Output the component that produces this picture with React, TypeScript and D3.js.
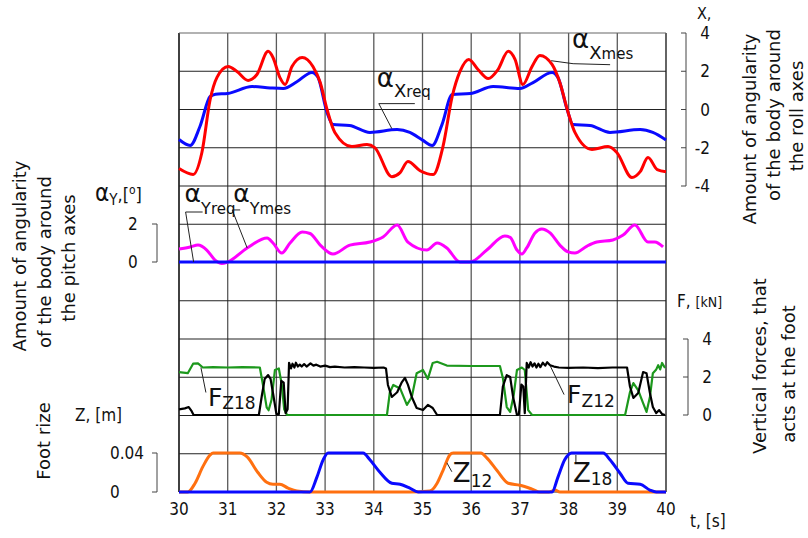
import React from 'react';
import * as d3 from 'd3';

const W = 808;
const H = 538;
const FONT = "'DejaVu Sans', Verdana, sans-serif";
const NUM_FONT = "'DejaVu Sans Condensed', 'DejaVu Sans', sans-serif";

type P = [number, number];

// ---- tick values / labels ----
const timeTicks = [30, 31, 32, 33, 34, 35, 36, 37, 38, 39, 40];
const rollTicks = [4, 2, 0, -2, -4];
const pitchTicks = [2, 0];
const forceTicks = [4, 2, 0];
const riseTicks = [0.04, 0];
const riseTickLabels = ['0.04', '0'];

// ---- roll angle alpha_X [deg] ----
const alphaXReq: P[] = [
  [30.0, -1.57], [30.23, -1.88], [30.43, -0.89], [30.64, 0.68], [30.75, 0.8], [31.0, 0.84],
  [31.5, 1.2], [31.87, 1.13], [32.14, 1.1], [32.42, 1.45], [32.73, 1.94], [32.85, 1.7],
  [33.04, -0.16], [33.16, -0.79], [33.5, -0.84], [33.92, -1.2], [34.48, -1.05], [34.74, -1.2],
  [35.0, -1.6], [35.2, -1.88], [35.4, -0.79], [35.61, 0.79], [35.98, 0.84], [36.45, 1.2],
  [37.0, 1.1], [37.27, 1.41], [37.66, 1.94], [37.78, 1.68], [37.97, 0], [38.09, -0.79],
  [38.44, -0.84], [38.85, -1.2], [39.47, -1.05], [39.73, -1.2], [40.0, -1.6],
];
const alphaXMes: P[] = [
  [30.0, -3.09], [30.29, -3.4], [30.47, -2.25], [30.64, 0.52], [30.78, 1.68], [31.01, 2.25],
  [31.19, 1.99], [31.42, 1.52], [31.6, 1.83], [31.83, 3.04], [31.93, 2.72], [32.07, 1.68],
  [32.18, 1.31], [32.32, 2.25], [32.53, 2.72], [32.75, 2.25], [32.9, 1.41], [33.04, 0],
  [33.2, -1.2], [33.55, -1.94], [33.86, -1.83], [34.02, -1.99], [34.37, -3.51], [34.54, -3.3],
  [34.7, -2.72], [34.95, -3.2], [35.22, -3.4], [35.42, -1.94], [35.61, 0.68], [35.77, 1.99],
  [35.95, 2.62], [36.14, 2.09], [36.35, 1.62], [36.55, 2.09], [36.76, 3.04], [36.9, 2.62],
  [37.06, 1.31], [37.25, 2.25], [37.41, 2.83], [37.66, 2.36], [37.82, 1.41], [37.99, -0.16],
  [38.13, -1.2], [38.48, -2.09], [38.81, -1.94], [38.99, -2.25], [39.3, -3.56], [39.47, -3.25],
  [39.63, -2.51], [39.82, -3.14], [40.0, -3.25],
];

// ---- pitch angle alpha_Y [deg] ----
const alphaYReq: P[] = [[30, 0], [40, 0]];
const alphaYMes: P[] = [
  [30.0, 0.68], [30.23, 0.79], [30.39, 0.89], [30.57, 0.63], [30.74, 0.1], [30.88, -0.08],
  [31.0, 0], [31.4, 0.74], [31.81, 1.26], [31.93, 1.0], [32.11, 0.47], [32.28, 1.0],
  [32.53, 1.58], [32.69, 1.5], [32.9, 0.89], [33.16, 0.42], [33.51, 0.89], [33.92, 1.05],
  [34.19, 1.32], [34.48, 1.95], [34.7, 1.05], [35.09, 0.63], [35.3, 1.0], [35.5, 0.74],
  [35.77, 0], [35.98, 0], [36.32, 0.63], [36.69, 1.37], [36.8, 1.3], [36.94, 0.63],
  [37.04, 0.42], [37.14, 0.74], [37.31, 1.53], [37.45, 1.74], [37.62, 1.53], [37.82, 0.89],
  [37.99, 0.53], [38.13, 0.47], [38.38, 0.84], [38.58, 1.05], [38.91, 1.16], [39.12, 1.42],
  [39.36, 1.95], [39.63, 1.05], [39.77, 1.05], [39.94, 0.79],
];

// ---- vertical forces [kN] ----
const forceZ18: P[] = [
  [30.0, 2.26], [30.18, 2.2], [30.29, 2.7], [30.39, 2.72], [30.49, 2.5], [30.7, 2.52],
  [31.0, 2.5], [31.3, 2.52], [31.66, 2.5], [31.73, 1.5], [31.8, 0.4], [31.84, 0.25],
  [31.9, 0.8], [31.97, 2.37], [32.05, 2.45], [32.11, 1.6], [32.16, 0.3], [32.22, 0],
  [34.27, 0], [34.33, 1.2], [34.4, 1.58], [34.54, 1.4], [34.68, 0.53], [34.78, 0.95],
  [34.88, 2.2], [35.01, 2.37], [35.11, 1.9], [35.21, 2.74], [35.3, 2.8], [35.5, 2.6],
  [36.0, 2.58], [36.59, 2.58], [36.65, 1.95], [36.73, 0.42], [36.8, 0.16], [36.87, 1.0],
  [36.94, 2.37], [37.04, 2.5], [37.1, 2.37], [37.17, 0.26], [37.25, 0], [39.16, 0],
  [39.26, 1.2], [39.33, 1.68], [39.43, 1.3], [39.53, 0.63], [39.6, 0.16], [39.67, 0.95],
  [39.73, 2.2], [39.8, 2.4], [39.84, 2.62], [39.88, 2.4], [39.92, 2.74], [39.98, 2.47],
];
const forceZ12: P[] = [
  [30.0, 0.3], [30.12, 0.35], [30.2, 0.42], [30.26, 0.2], [30.3, 0], [31.64, 0],
  [31.7, 1.0], [31.76, 1.9], [31.83, 2.1], [31.88, 1.9], [31.94, 1.0], [32.0, 0.05],
  [32.05, 0.05], [32.1, 1.8], [32.15, 1.7], [32.19, 0.1], [32.23, 0.3], [32.26, 2.75],
  [32.3, 2.45], [32.33, 2.7], [32.37, 2.5], [32.4, 2.75], [32.44, 2.55], [32.48, 2.65],
  [32.52, 2.55], [32.57, 2.68], [32.62, 2.55], [32.7, 2.72], [32.76, 2.6], [32.82, 2.65],
  [32.9, 2.55], [33.0, 2.6], [33.1, 2.52], [33.2, 2.55], [33.4, 2.5], [33.6, 2.52],
  [33.8, 2.5], [34.0, 2.48], [34.2, 2.5], [34.25, 2.45], [34.29, 1.58], [34.37, 0.95],
  [34.48, 1.2], [34.57, 1.7], [34.64, 1.95], [34.7, 1.6], [34.78, 0.95], [34.88, 0.37],
  [35.01, 0.26], [35.11, 0.53], [35.21, 0.37], [35.3, 0], [36.59, 0], [36.65, 1.5],
  [36.73, 2.1], [36.8, 2.0], [36.86, 0.95], [36.94, 0], [36.98, 0.05], [37.03, 1.6],
  [37.07, 1.5], [37.1, 0.1], [37.14, 2.74], [37.18, 2.5], [37.22, 2.78], [37.26, 2.55],
  [37.3, 2.72], [37.34, 2.5], [37.38, 2.7], [37.42, 2.52], [37.47, 2.75], [37.52, 2.6],
  [37.56, 2.78], [37.62, 2.62], [37.7, 2.55], [37.8, 2.5], [38.0, 2.48], [38.3, 2.5],
  [38.6, 2.47], [38.9, 2.5], [39.2, 2.5], [39.26, 1.5], [39.33, 0.9], [39.43, 1.16],
  [39.53, 2.26], [39.6, 2.2], [39.67, 1.16], [39.73, 0.42], [39.8, 0.1], [39.86, 0.26],
  [39.92, 0.05], [39.98, 0],
];

// ---- foot rise [m] ----
const riseZ12: P[] = [
  [30.0, 0], [30.18, 0], [30.33, 0.009], [30.49, 0.026], [30.64, 0.038], [30.7, 0.04],
  [31.25, 0.04], [31.4, 0.036], [31.62, 0.02], [31.8, 0.01], [31.93, 0.008], [32.07, 0.008],
  [32.24, 0.004], [32.42, 0.001], [32.69, 0], [34.74, 0], [35.15, 0.001], [35.3, 0.009],
  [35.42, 0.022], [35.56, 0.038], [35.63, 0.04], [36.2, 0.04], [36.32, 0.035], [36.53, 0.022],
  [36.76, 0.009], [37.0, 0.007], [37.25, 0.003], [37.41, 0], [37.6, 0], [37.72, 0.002],
  [37.82, 0], [40.0, 0],
];
const riseZ18: P[] = [
  [30.0, 0], [32.69, 0], [32.83, 0.015], [32.96, 0.033], [33.06, 0.04], [33.78, 0.04],
  [33.92, 0.033], [34.13, 0.02], [34.37, 0.009], [34.54, 0.008], [34.74, 0.004], [34.91, 0],
  [37.66, 0], [37.78, 0.015], [37.92, 0.033], [38.06, 0.04], [38.71, 0.04], [38.85, 0.033],
  [39.06, 0.019], [39.22, 0.009], [39.47, 0.008], [39.67, 0.002], [39.8, 0], [40.0, 0],
];

const RED = '#ff0000';
const BLUE = '#0a0aff';
const MAGENTA = '#ff00ff';
const GREEN = '#1c981c';
const ORANGE = '#ff7010';

export default function App() {
  const x = d3.scaleLinear().domain([30, 40]).range([179, 666]);
  const yRoll = d3.scaleLinear().domain([-4, 4]).range([186, 33]);
  const yPitch = d3.scaleLinear().domain([0, 2]).range([262, 224]);
  const yForce = d3.scaleLinear().domain([0, 4]).range([415, 339]);
  const yRise = d3.scaleLinear().domain([0, 0.04]).range([492, 453]);
  const yGrid = d3.scaleLinear().domain([0, 12]).range([33, 492]);

  const smooth = (y: d3.ScaleLinear<number, number>) =>
    d3.line<P>().x(d => x(d[0])).y(d => y(d[1])).curve(d3.curveMonotoneX);
  const straight = (y: d3.ScaleLinear<number, number>) =>
    d3.line<P>().x(d => x(d[0])).y(d => y(d[1]));

  const rows = d3.range(13);
  const x0 = x(30), x1 = x(40);

  // bracket axis helper
  const bracket = (
    y: d3.ScaleLinear<number, number>, ticks: number[], labels: string[], axX: number,
    labX: number, anchor: 'start' | 'end' | 'middle', key: string,
  ) => (
    <g key={key}>
      <line x1={axX} x2={axX} y1={y(ticks[0])} y2={y(ticks[ticks.length - 1])} stroke="#444" strokeWidth={1} />
      {ticks.map((t, i) => (
        <g key={i}>
          <line x1={axX - 5} x2={axX} y1={y(t)} y2={y(t)} stroke="#444" strokeWidth={1} />
          <text x={labX} y={y(t) + 6} fontSize={17} fontFamily={NUM_FONT} textAnchor={anchor} fill="#111">{labels[i]}</text>
        </g>
      ))}
    </g>
  );

  const vtext = (lines: { s: string; cx: number; cy: number }[], size = 18) =>
    lines.map((l, i) => (
      <text key={i} transform={`translate(${l.cx + size * 0.25},${l.cy}) rotate(-90)`} textAnchor="middle"
        fontSize={size} fontFamily={FONT} fill="#111">{l.s}</text>
    ));

  const alphaLabel = (px: number, py: number, sub: string, subsub: string, dy: number, aSize: number, subSize: number, key: string) => (
    <text key={key} x={px} y={py} fontFamily={FONT} fill="#111">
      <tspan fontSize={aSize}>α</tspan>
      <tspan fontSize={subSize} dy={dy}>{sub}</tspan>
      <tspan fontSize={15}>{subsub}</tspan>
    </text>
  );

  // annotation anchors on curves
  const aXr = [x(34.37), yRoll(-1.0)];
  const aXm = [x(37.6), yRoll(2.5)];
  const aYr = [x(30.3), yPitch(0)];
  const aYm = [x(31.4), yPitch(0.74)];
  const aF18 = [x(30.45), yForce(2.5)];
  const aF12 = [x(37.62), yForce(2.6)];
  const aZ12 = [x(35.5), yRise(0.03)];
  const aZ18 = [x(38.15), yRise(0.04)];

  return (
    <svg width={W} height={H} style={{ position: 'absolute', left: 0, top: 0, background: '#fff' }}>
      <rect width={W} height={H} fill="#fff" />
      {/* grid */}
      {timeTicks.map(t => (
        <line key={'v' + t} x1={x(t)} x2={x(t)} y1={yGrid(0)} y2={yGrid(12)}
          stroke={t === 30 || t === 40 ? '#111' : '#5a5a5a'} strokeWidth={t === 30 ? 1.6 : 1.3} />
      ))}
      {rows.map(r => (
        <line key={'h' + r} x1={x0} x2={x1} y1={yGrid(r)} y2={yGrid(r)} stroke={r === 0 ? '#666' : '#222'} strokeWidth={1.2} />
      ))}

      {/* roll */}
      <path d={smooth(yRoll)(alphaXReq)!} fill="none" stroke={BLUE} strokeWidth={3} />
      <path d={smooth(yRoll)(alphaXMes)!} fill="none" stroke={RED} strokeWidth={3} />

      {/* pitch */}
      <path d={smooth(yPitch)(alphaYMes)!} fill="none" stroke={MAGENTA} strokeWidth={3} />
      <path d={straight(yPitch)(alphaYReq)!} fill="none" stroke={BLUE} strokeWidth={3} />

      {/* forces */}
      <path d={straight(yForce)(forceZ18)!} fill="none" stroke={GREEN} strokeWidth={2.2} strokeLinejoin="round" />
      <path d={straight(yForce)(forceZ12)!} fill="none" stroke="#000" strokeWidth={2.2} strokeLinejoin="round" />

      {/* foot rise */}
      <path d={smooth(yRise)(riseZ12)!} fill="none" stroke={ORANGE} strokeWidth={3} />
      <path d={smooth(yRise)(riseZ18)!} fill="none" stroke={BLUE} strokeWidth={3} />

      {/* axes */}
      {bracket(yRoll, rollTicks, rollTicks.map(String), 686, 710, 'end', 'roll')}
      {bracket(yForce, forceTicks, forceTicks.map(String), 688, 712, 'end', 'force')}
      {bracket(yPitch, pitchTicks, pitchTicks.map(String), 157, 128, 'start', 'pitch')}
      {bracket(yRise, riseTicks, riseTickLabels, 157, 110, 'start', 'rise')}

      {timeTicks.map(t => (
        <text key={'xt' + t} x={x(t)} y={515} fontSize={17} fontFamily={NUM_FONT} textAnchor="middle" fill="#111">{t}</text>
      ))}
      <text x={690} y={527} fontSize={17} fontFamily={NUM_FONT} fill="#111">t, [s]</text>
      <text x={697} y={19} fontSize={16} fontFamily={NUM_FONT} fill="#111">X,</text>
      <text x={677} y={307} fontFamily={NUM_FONT} fill="#111">
        <tspan fontSize={17}>F, </tspan><tspan fontSize={14}>[kN]</tspan>
      </text>
      <text x={75} y={421} fontSize={17} fontFamily={NUM_FONT} fill="#111">Z,  [m]</text>
      <text x={95} y={201} fontFamily={NUM_FONT} fill="#111">
        <tspan fontSize={24}>α</tspan>
        <tspan fontSize={15} dy={4}>Y</tspan>
        <tspan fontSize={18} dy={-4}>,[</tspan>
        <tspan fontSize={12} dy={-7}>o</tspan>
        <tspan fontSize={18} dy={7}>]</tspan>
      </text>

      {/* rotated titles */}
      {vtext([
        { s: 'Amount of angularity', cx: 751, cy: 129 },
        { s: 'of the body around', cx: 775, cy: 115 },
        { s: 'the roll axes', cx: 798, cy: 116 },
      ])}
      {vtext([
        { s: 'Amount of angularity', cx: 21, cy: 256 },
        { s: 'of the body around', cx: 46, cy: 262 },
        { s: 'the pitch axes', cx: 70, cy: 258 },
      ])}
      {vtext([
        { s: 'Vertical forces, that', cx: 761, cy: 366 },
        { s: 'acts at the foot', cx: 790, cy: 374 },
      ])}
      {vtext([{ s: 'Foot rize', cx: 45, cy: 441 }])}

      {/* annotations */}
      <g stroke="#222" strokeWidth={1} fill="none">
        <polyline points={`${aXr[0] + 23},${aXr[1] - 25} ${aXr[0] - 13},${aXr[1] - 25} ${aXr[0]},${aXr[1]}`} />
        <polyline points={`${aXm[0] + 2},${aXm[1] - 1} ${aXm[0] + 24},${aXm[1] + 2} ${aXm[0] + 61},${aXm[1] + 3}`} />
        <polyline points={`${aYr[0] + 9},${aYr[1] - 50} ${aYr[0] - 8},${aYr[1] - 50} ${aYr[0]},${aYr[1]}`} />
        <polyline points={`${aYm[0] - 7},${aYm[1] - 38} ${aYm[0] - 15},${aYm[1] - 38} ${aYm[0]},${aYm[1]}`} />
        <line x1={aF18[0]} y1={aF18[1]} x2={aF18[0] + 5} y2={aF18[1] + 25} />
        <line x1={aF12[0]} y1={aF12[1]} x2={aF12[0] + 14} y2={aF12[1] + 29} />
        <line x1={aZ12[0]} y1={aZ12[1]} x2={aZ12[0] + 5} y2={aZ12[1] + 9} />
        <line x1={aZ18[0]} y1={aZ18[1] + 2} x2={aZ18[0]} y2={aZ18[1] + 9} />
      </g>
      {alphaLabel(aXr[0] - 15, aXr[1] - 42, 'X', 'req', 10, 26, 18, 'lxr')}
      {alphaLabel(aXm[0] + 23, aXm[1] - 14, 'X', 'mes', 11, 26, 18, 'lxm')}
      {alphaLabel(aYr[0] - 9, aYr[1] - 60, 'Y', 'req', 12, 25, 16, 'lyr')}
      {alphaLabel(aYm[0] - 14, aYm[1] - 46, 'Y', 'mes', 12, 25, 16, 'lym')}
      <text x={aF18[0] + 7} y={aF18[1] + 38} fontFamily={FONT} fill="#111">
        <tspan fontSize={25}>F</tspan><tspan fontSize={17} dy={3}>Z18</tspan>
      </text>
      <text x={aF12[0] + 17} y={aF12[1] + 37} fontFamily={FONT} fill="#111">
        <tspan fontSize={25}>F</tspan><tspan fontSize={17} dy={4}>Z12</tspan>
      </text>
      <text x={aZ12[0] + 6} y={aZ12[1] + 19} fontFamily={FONT} fill="#111">
        <tspan fontSize={26}>Z</tspan><tspan fontSize={17} dy={5}>12</tspan>
      </text>
      <text x={aZ18[0] - 3} y={aZ18[1] + 29} fontFamily={FONT} fill="#111">
        <tspan fontSize={26}>Z</tspan><tspan fontSize={17} dy={3}>18</tspan>
      </text>
    </svg>
  );
}
